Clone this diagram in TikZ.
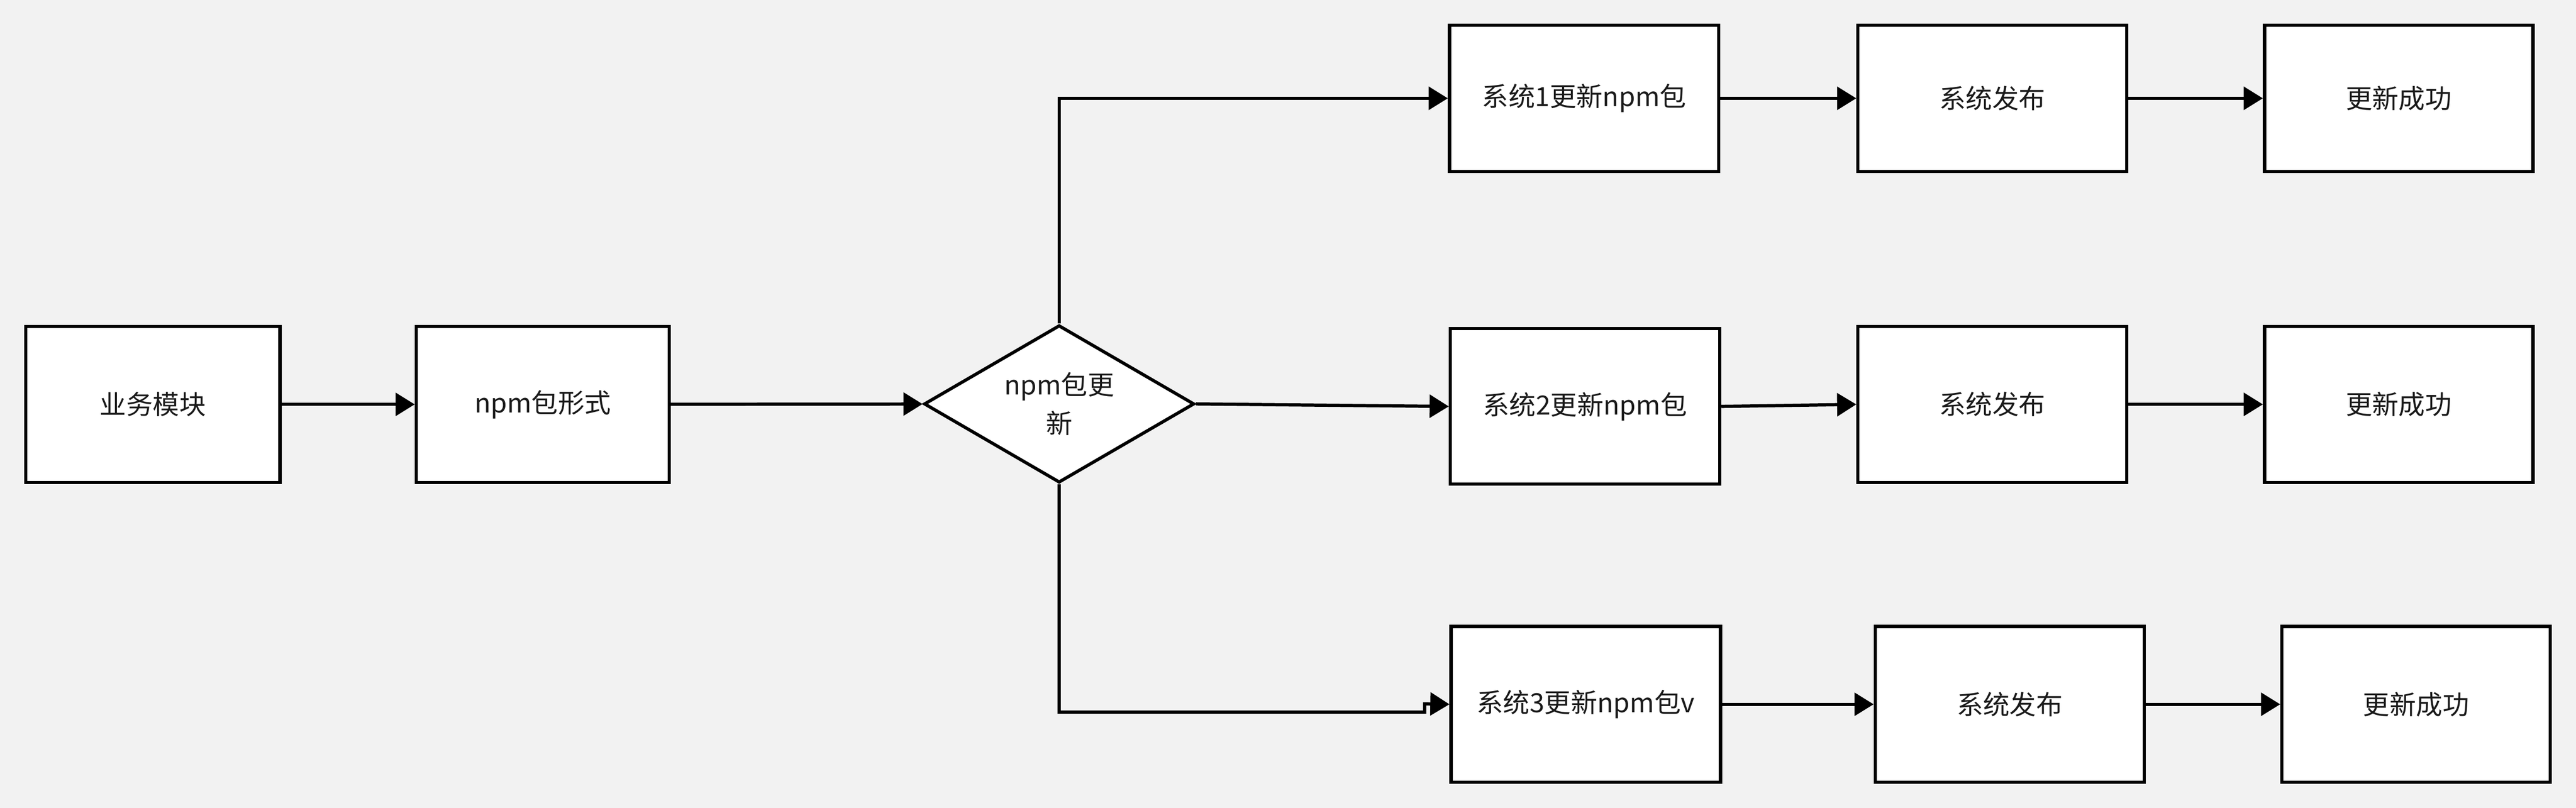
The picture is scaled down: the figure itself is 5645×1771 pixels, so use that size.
\documentclass[tikz,border=0pt]{standalone}
\usepackage{fontspec}
\setmainfont{Noto Sans CJK SC}
\usetikzlibrary{shapes.geometric,arrows.meta}
\definecolor{bgc}{HTML}{F2F2F2}
\definecolor{txt}{HTML}{1A1A1A}
\tikzset{
  box/.style={draw=black, line width=2pt, fill=white, rectangle, inner sep=0pt,
    text=txt, font=\fontsize{16.5pt}{24pt}\selectfont},
  decide/.style={draw=black, line width=2pt, fill=white, diamond, inner sep=0pt,
    text=txt, align=center, font=\fontsize{16.5pt}{24pt}\selectfont},
  conn/.style={draw=black, line width=2pt, -{Triangle[length=0.42cm, width=0.5cm]}}
}
\begin{document}
\begin{tikzpicture}[x=0.01cm, y=-0.01cm]
\fill[bgc] (0,0) rectangle (5645,1771);
\useasboundingbox (0,0) rectangle (5645,1771);
% left chain
\node[box, minimum width=5.57cm, minimum height=3.42cm] (biz) at (335,886.5) {业务模块};
\node[box, minimum width=5.54cm, minimum height=3.42cm] (pkg) at (1189.5,886.5) {npm包形式};
\node[decide, minimum width=5.92cm, minimum height=3.45cm, aspect=1.716] (dia) at (2321,885.5) {npm包更\\新};
% row 1
\node[box, minimum width=5.90cm, minimum height=3.20cm] (s1) at (3471.5,215.5) {系统1更新npm包};
\node[box, minimum width=5.89cm, minimum height=3.20cm] (p1) at (4366,215.5) {系统发布};
\node[box, minimum width=5.88cm, minimum height=3.20cm] (o1) at (5256.5,215.5) {更新成功};
% row 2
\node[box, minimum width=5.90cm, minimum height=3.41cm] (s2) at (3473.5,891) {系统2更新npm包};
\node[box, minimum width=5.89cm, minimum height=3.42cm] (p2) at (4366,886.5) {系统发布};
\node[box, minimum width=5.88cm, minimum height=3.42cm] (o2) at (5256.5,886.5) {更新成功};
% row 3
\node[box, minimum width=5.90cm, minimum height=3.41cm] (s3) at (3475,1544) {系统3更新npm包v};
\node[box, minimum width=5.89cm, minimum height=3.41cm] (p3) at (4404,1544) {系统发布};
\node[box, minimum width=5.88cm, minimum height=3.41cm] (o3) at (5294.5,1544) {更新成功};
% kink points
\coordinate (k1) at (3122,1561);
\coordinate (k2) at (3122,1543);
% connectors
\draw[conn] (biz) -- (pkg);
\draw[conn] (pkg) -- (dia);
\draw[conn] (dia.north) |- (s1.west);
\draw[conn] (dia.east) -- (s2.west);
\draw[conn] (dia.south) |- (k1) -- (k2) -- (s3.west);
\draw[conn] (s1) -- (p1);
\draw[conn] (p1) -- (o1);
\draw[conn] (s2.east) -- (p2.west);
\draw[conn] (p2) -- (o2);
\draw[conn] (s3) -- (p3);
\draw[conn] (p3) -- (o3);
\end{tikzpicture}
\end{document}
